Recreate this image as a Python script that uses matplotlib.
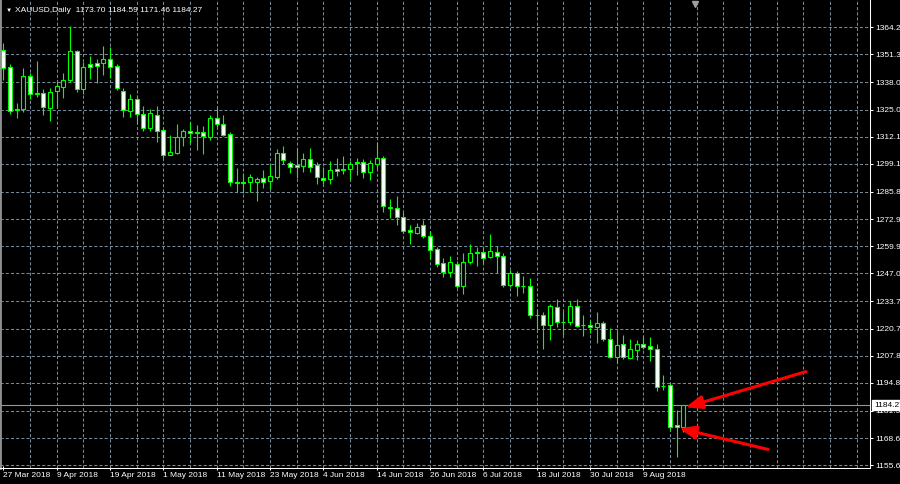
import numpy as np
import matplotlib.pyplot as plt
from matplotlib.ticker import FixedLocator
from matplotlib.transforms import blended_transform_factory

# XAUUSD daily candles, 27 Mar 2018 .. 17 Aug 2018
opens = [1353.44, 1345.20, 1325.20, 1325.33, 1341.19, 1332.60, 1332.81, 1325.95, 1333.91, 1335.96,
         1339.15, 1353.10, 1334.72, 1346.77, 1347.39, 1347.10, 1349.15, 1345.81, 1334.05, 1324.52,
         1330.10, 1322.95, 1316.43, 1322.48, 1315.10, 1303.57, 1304.23, 1311.85, 1314.62, 1314.30,
         1314.24, 1312.14, 1320.90, 1318.19, 1313.28, 1290.60, 1290.30, 1290.42, 1290.42, 1292.47,
         1291.18, 1293.09, 1304.52, 1299.76, 1298.66, 1298.33, 1301.38, 1298.66, 1292.61, 1291.85,
         1296.76, 1296.50, 1296.76, 1300.23, 1300.23, 1295.47, 1299.14, 1302.00, 1278.30, 1278.04,
         1274.04, 1267.70, 1266.42, 1270.08, 1264.99, 1258.65, 1251.84, 1247.54, 1251.51, 1241.17,
         1252.32, 1257.08, 1257.37, 1254.99, 1257.37, 1255.32, 1241.51, 1247.08, 1240.90, 1241.03,
         1227.30, 1227.22, 1222.46, 1231.17, 1224.10, 1224.03, 1231.50, 1222.50, 1222.46, 1221.36,
         1223.27, 1215.64, 1207.36, 1213.40, 1206.88, 1210.54, 1213.40, 1212.45, 1210.88, 1193.40,
         1193.73, 1174.82, 1173.70]
highs = [1356.63, 1346.77, 1328.05, 1344.72, 1342.34, 1347.96, 1334.86, 1335.19, 1337.96, 1342.48,
         1364.87, 1353.44, 1347.58, 1350.58, 1349.15, 1355.48, 1354.72, 1346.62, 1335.48, 1332.48,
         1332.00, 1326.76, 1325.19, 1326.76, 1316.90, 1312.95, 1318.09, 1315.67, 1319.29, 1317.71,
         1317.09, 1322.62, 1326.14, 1322.48, 1314.52, 1297.09, 1294.71, 1294.38, 1293.09, 1296.28,
         1298.66, 1306.14, 1307.71, 1300.57, 1306.90, 1304.23, 1306.62, 1300.23, 1297.85, 1300.57,
         1301.85, 1302.95, 1300.57, 1301.85, 1301.38, 1301.04, 1309.76, 1303.09, 1282.37, 1283.90,
         1276.42, 1270.08, 1270.90, 1272.47, 1267.37, 1259.75, 1254.22, 1255.32, 1253.08, 1256.60,
         1261.03, 1259.75, 1259.46, 1265.80, 1260.08, 1256.60, 1248.65, 1248.32, 1245.80, 1244.70,
         1229.60, 1228.79, 1232.32, 1234.84, 1229.27, 1234.03, 1234.84, 1227.22, 1224.83, 1228.50,
         1224.50, 1220.88, 1219.74, 1217.69, 1215.79, 1215.31, 1217.22, 1216.88, 1213.40, 1198.63,
         1194.69, 1181.97, 1184.59]
lows = [1339.15, 1322.95, 1320.90, 1324.05, 1330.00, 1331.19, 1322.48, 1319.76, 1325.67, 1330.57,
        1338.34, 1333.57, 1332.48, 1339.62, 1337.58, 1341.53, 1339.96, 1334.38, 1321.67, 1321.67,
        1318.19, 1315.00, 1314.86, 1309.76, 1301.85, 1303.43, 1304.14, 1307.95, 1309.00, 1305.81,
        1303.90, 1310.57, 1316.90, 1312.47, 1288.66, 1285.94, 1285.18, 1285.94, 1281.66, 1287.56,
        1287.09, 1291.99, 1299.00, 1294.99, 1292.33, 1295.47, 1295.47, 1289.47, 1289.47, 1289.47,
        1293.42, 1294.38, 1291.99, 1293.90, 1292.61, 1291.52, 1296.76, 1276.27, 1273.28, 1270.08,
        1266.13, 1261.03, 1265.66, 1263.75, 1253.89, 1250.22, 1245.46, 1245.46, 1239.93, 1237.22,
        1251.51, 1250.70, 1251.51, 1254.22, 1247.08, 1240.70, 1240.70, 1236.41, 1237.70, 1225.65,
        1220.41, 1210.88, 1215.31, 1221.65, 1217.69, 1222.46, 1221.50, 1217.22, 1218.50, 1213.74,
        1214.83, 1206.59, 1204.21, 1206.50, 1206.50, 1205.78, 1211.26, 1205.45, 1191.02, 1191.49,
        1172.44, 1159.73, 1171.46]
closes = [1344.72, 1324.52, 1324.90, 1341.19, 1332.48, 1333.00, 1326.43, 1333.29, 1336.15, 1339.15,
          1353.10, 1334.72, 1345.20, 1345.48, 1345.96, 1349.15, 1345.48, 1335.48, 1324.86, 1330.10,
          1322.95, 1316.43, 1323.29, 1315.00, 1303.57, 1304.71, 1312.00, 1314.62, 1313.76, 1314.00,
          1312.62, 1320.90, 1318.19, 1312.95, 1290.42, 1290.30, 1290.50, 1292.80, 1292.14, 1290.71,
          1293.42, 1304.52, 1301.04, 1297.57, 1297.57, 1301.38, 1297.85, 1292.80, 1291.52, 1296.28,
          1295.95, 1296.70, 1299.14, 1299.47, 1295.47, 1299.47, 1302.23, 1279.28, 1278.60, 1274.04,
          1267.37, 1266.89, 1269.27, 1264.99, 1258.17, 1251.51, 1247.54, 1252.60, 1241.17, 1252.60,
          1256.60, 1256.60, 1254.51, 1257.70, 1255.32, 1241.51, 1247.08, 1241.17, 1241.10, 1227.22,
          1227.10, 1222.46, 1231.65, 1224.03, 1223.90, 1231.50, 1222.12, 1222.30, 1221.36, 1223.27,
          1215.64, 1207.36, 1212.93, 1207.07, 1210.88, 1213.40, 1211.83, 1211.02, 1193.07, 1193.60,
          1174.01, 1173.73, 1184.27]

date_labels = ["27 Mar 2018", "9 Apr 2018", "19 Apr 2018", "1 May 2018", "11 May 2018",
               "23 May 2018", "4 Jun 2018", "14 Jun 2018", "26 Jun 2018", "6 Jul 2018",
               "18 Jul 2018", "30 Jul 2018", "9 Aug 2018"]
price_ticks = [1364.25, 1351.30, 1338.00, 1325.05, 1312.10, 1299.15, 1285.85, 1272.90, 1259.95,
               1247.00, 1233.70, 1220.75, 1207.80, 1194.85, 1181.55, 1168.60, 1155.65]
symbol = "XAUUSD,Daily"

plt.rcParams['font.family'] = ['Liberation Sans', 'DejaVu Sans']

o = np.array(opens)
h = np.array(highs)
l = np.array(lows)
c = np.array(closes)
x = np.arange(len(o))
n = len(o)

fig = plt.figure(figsize=(9, 4.84), dpi=100, facecolor='black')
ax = fig.add_axes([0, 16 / 484, 870 / 900, 468 / 484])
ax.set_facecolor('black')

green = '#00ff00'
grid_col = '#778899'

# candles: white body = down day, black body = up day
ax.vlines(x, l, h, color=green, lw=0.8, zorder=2)
body_h = np.maximum(np.abs(c - o), 0.15)
face = np.where(c >= o, 'black', 'white')
ax.bar(x, body_h, bottom=np.minimum(o, c), width=0.6, color=face,
       edgecolor=green, linewidth=0.8, zorder=3)

ax.set_xlim(-0.5, 130)
ax.set_ylim(1154.35, 1377.25)

# price axis on the right
ax.yaxis.tick_right()
ax.set_yticks(price_ticks)
ax.set_yticklabels([f"{p:.2f}" for p in price_ticks])
ax.tick_params(axis='y', colors='white', length=2.5, width=0.75, pad=1.5, labelsize=6)
ax.yaxis.grid(True, color=grid_col, ls=(0, (3, 2)), lw=0.75)

# time axis: a label every 8 bars, a grid line every 4
ax.set_xticks(np.arange(0, 8 * len(date_labels), 8))
ax.set_xticklabels(date_labels, ha='left')
ax.xaxis.set_minor_locator(FixedLocator(np.arange(4, 130, 4)))
ax.xaxis.remove_overlapping_locs = False
ax.tick_params(axis='x', which='major', colors='white', length=3, width=0.75,
               direction='inout', pad=1.5, labelsize=6)
ax.tick_params(axis='x', which='minor', length=0)
ax.grid(True, which='minor', axis='x', color=grid_col, ls=(0, (3, 2)), lw=0.75)

ax.spines['top'].set_visible(False)
ax.spines['left'].set_color('#909090')
ax.spines['left'].set_linewidth(2)
ax.spines['bottom'].set_color('white')
ax.spines['bottom'].set_linewidth(0.75)
ax.spines['right'].set_color('white')
ax.spines['right'].set_linewidth(0.75)

# bid line and price box
ax.axhline(c[-1], color='#8a98a8', lw=0.8, zorder=1.8)
trans = blended_transform_factory(ax.transAxes, ax.transData)
ax.text(1.0 + 4 / 870, c[-1], f"{c[-1]:.2f}", transform=trans, ha='left', va='center',
        fontsize=6, color='black', clip_on=False, zorder=6,
        bbox=dict(boxstyle='square,pad=0.2', fc='white', ec='white'))

# header
ax.text(6 / 870, 1 - 10 / 468, "\u25bc", transform=ax.transAxes, color='white',
        fontsize=4.5, va='center', ha='left')
ax.text(15 / 870, 1 - 10 / 468,
        f"{symbol}  {o[-1]:.2f} {h[-1]:.2f} {l[-1]:.2f} {c[-1]:.2f}",
        transform=ax.transAxes, color='white', fontsize=6, va='center', ha='left')

# chart shift marker at the top
ax.plot([(695) / 870], [1 - 4 / 468], marker='v', ms=5, color='#a0a0a0',
        transform=ax.transAxes, clip_on=False)

# red arrows pointing at the last candle
last = n - 1
arrow_style = dict(arrowstyle='-|>,head_length=0.55,head_width=0.22', color='#ff0000',
                   lw=2.2, mutation_scale=18, shrinkA=0, shrinkB=0)
ax.annotate('', xy=(last + 0.36, c[-1] - 1.0), xytext=(last + 18.4, c[-1] + 16.0),
            arrowprops=arrow_style, zorder=7)
ax.annotate('', xy=(last - 0.6, o[-1] - 0.45), xytext=(last + 12.7, o[-1] - 10.5),
            arrowprops=arrow_style, zorder=7)

fig.savefig('out.png', dpi=100, facecolor='black')
